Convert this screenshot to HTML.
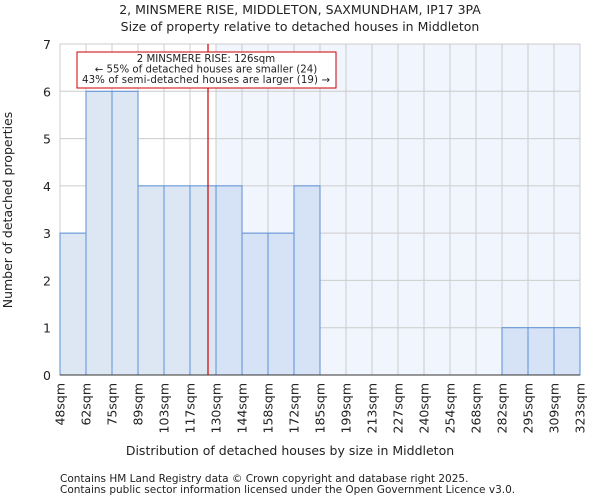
<!DOCTYPE html>
<html><head><meta charset="utf-8"><style>
body{margin:0;background:#fff;font-family:"DejaVu Sans","Liberation Sans",sans-serif;}
svg text{font-family:"DejaVu Sans","Liberation Sans",sans-serif;fill:#222;}
</style></head><body>
<svg id="chart" width="600" height="500" xmlns="http://www.w3.org/2000/svg">
<text x="300" y="14" font-size="12.5" text-anchor="middle">2, MINSMERE RISE, MIDDLETON, SAXMUNDHAM, IP17 3PA</text>
<text x="300" y="31" font-size="12.5" text-anchor="middle">Size of property relative to detached houses in Middleton</text>
<g id="plot"></g>
<text x="290" y="455" font-size="12.5" text-anchor="middle">Distribution of detached houses by size in Middleton</text>
<text transform="translate(12,210) rotate(-90)" font-size="12.5" text-anchor="middle">Number of detached properties</text>
<text x="60" y="482" font-size="10.5" fill="#444">Contains HM Land Registry data © Crown copyright and database right 2025.</text>
<text x="60" y="493" font-size="10.5" fill="#444">Contains public sector information licensed under the Open Government Licence v3.0.</text>
</svg>
<script>
const binLabels=["48sqm","62sqm","75sqm","89sqm","103sqm","117sqm","130sqm","144sqm","158sqm","172sqm","185sqm","199sqm","213sqm","227sqm","240sqm","254sqm","268sqm","282sqm","295sqm","309sqm","323sqm"];
const counts=[3,6,6,4,4,4,4,3,3,4,0,0,0,0,0,0,0,1,1,1];
const yTicks=[0,1,2,3,4,5,6,7];
const propertySize=126;
const binStarts=[48,62,75,89,103,117,130,144,158,172,185,199,213,227,240,254,268,282,295,309,323];
const NS="http://www.w3.org/2000/svg";
const g=document.getElementById('plot');
const X0=60,X1=580,Y0=375,Y1=44,yMax=7;
const bw=(X1-X0)/counts.length;
const xIdx=i=>X0+i*bw;
const y=v=>Y0-(v/yMax)*(Y0-Y1);
function xVal(v){for(let i=0;i<binStarts.length-1;i++){if(v>=binStarts[i]&&v<=binStarts[i+1])return xIdx(i)+bw*(v-binStarts[i])/(binStarts[i+1]-binStarts[i]);}return X1;}
function mk(t,a){const e=document.createElementNS(NS,t);for(const k in a)e.setAttribute(k,a[k]);g.appendChild(e);return e;}
let hb=0;for(let i=0;i<binStarts.length-1;i++){if(propertySize>=binStarts[i])hb=i+1;}
let r=mk('rect',{x:xIdx(hb),y:Y1,width:X1-xIdx(hb),height:Y0-Y1,fill:'#f1f5fd'});


yTicks.forEach(t=>{let l=mk('line',{x1:X0,x2:X1,y1:y(t),y2:y(t),stroke:'#cccccc'});


let tx=mk('text',{x:X0-9,y:y(t)+5,'font-size':12.5,'text-anchor':'end'});tx.textContent=t;

});
binLabels.forEach((b,i)=>{let l=mk('line',{x1:xIdx(i),x2:xIdx(i),y1:Y1,y2:Y0,stroke:'#cccccc'});


let tx=mk('text',{transform:`translate(${xIdx(i)+4.5},${Y0+8}) rotate(-90)`,'font-size':12.5,'text-anchor':'end'});tx.textContent=b;

});
counts.forEach((c,i)=>{if(!c)return;let b=mk('rect',{x:xIdx(i),y:y(c),width:bw,height:Y0-y(c),fill:i>=hb?'#d6e2f5':'#dde7f4',stroke:'#5b8fd6','stroke-width':1});

});
let ax=mk('line',{x1:X0,x2:X1,y1:Y0,y2:Y0,stroke:'#333'});


const px=xVal(propertySize);
let m=mk('line',{x1:px,x2:px,y1:Y1,y2:Y0,stroke:'#cc0000','stroke-width':1.2});


let box=mk('rect',{x:77,y:52,width:259,height:36,fill:'#fff',stroke:'#cc0000'});


["2 MINSMERE RISE: 126sqm","← 55% of detached houses are smaller (24)","43% of semi-detached houses are larger (19) →"].forEach((s,i)=>{let t=mk('text',{x:206,y:62+i*10.5,'font-size':10.2,'text-anchor':'middle','textLength':i==2?248:null});if(i!=2)t.removeAttribute('textLength');t.textContent=s;

});
</script>
</body></html>
